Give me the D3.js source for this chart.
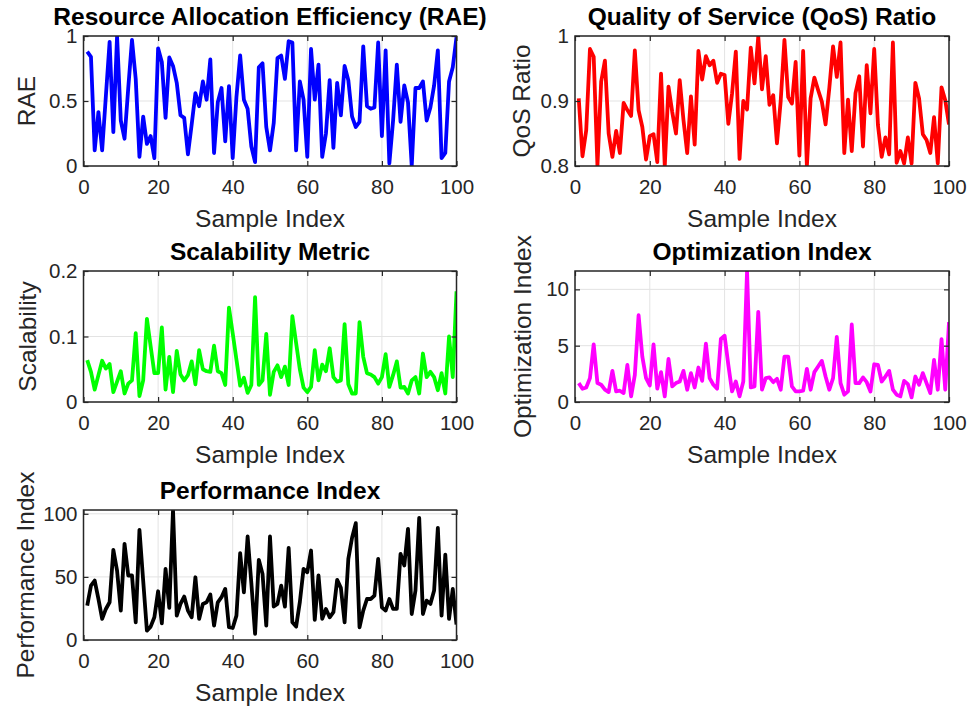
<!DOCTYPE html>
<html>
<head>
<meta charset="utf-8">
<script src="https://cdn.jsdelivr.net/npm/d3@7"></script>
<style>
  body { margin: 0; background: #fff; }
  svg { display: block; }
  text { font-family: Arial, "Liberation Sans", sans-serif; fill: #262626; }
</style>
</head>
<body>
<div id="wrapper"></div>
<script>
// sample index 1..100
const sampleIndex = d3.range(1, 101)

const rae = [0.88,0.84,0.12,0.415,0.12,0.54,0.955,0.26,1.0,0.35,
  0.21,0.6,0.97,0.67,0.07,0.38,0.17,0.23,0.06,0.905,
  0.80,0.37,0.835,0.77,0.64,0.39,0.37,0.09,0.32,0.56,
  0.46,0.65,0.51,0.82,0.10,0.49,0.60,0.19,0.615,0.06,
  0.53,0.85,0.51,0.44,0.15,0.03,0.76,0.79,0.30,0.12,
  0.33,0.83,0.85,0.67,0.96,0.95,0.12,0.65,0.51,0.07,
  0.90,0.51,0.78,0.07,0.25,0.66,0.14,0.64,0.39,0.77,
  0.66,0.38,0.30,0.34,0.92,0.46,0.44,0.45,0.95,0.23,
  0.89,0.02,0.35,0.78,0.34,0.62,0.49,0.0,0.60,0.60,
  0.65,0.35,0.45,0.62,0.89,0.06,0.10,0.65,0.76,0.99]

const qos = [0.904,0.815,0.855,0.98,0.968,0.80,0.93,0.962,0.85,0.814,
  0.854,0.82,0.897,0.886,0.877,0.978,0.886,0.86,0.81,0.846,
  0.849,0.806,0.942,0.80,0.922,0.883,0.85,0.932,0.871,0.82,
  0.907,0.833,0.977,0.933,0.969,0.955,0.962,0.928,0.942,0.94,
  0.865,0.912,0.976,0.811,0.90,0.887,0.982,0.927,0.999,0.918,
  0.969,0.894,0.909,0.835,0.90,0.994,0.906,0.896,0.96,0.816,
  0.977,0.80,0.904,0.936,0.917,0.899,0.864,0.92,0.984,0.937,
  0.99,0.82,0.902,0.823,0.912,0.938,0.83,0.955,0.881,0.98,
  0.863,0.814,0.844,0.818,0.99,0.805,0.823,0.804,0.844,0.804,
  0.928,0.904,0.849,0.84,0.82,0.875,0.804,0.921,0.901,0.864]

const scalability = [0.064,0.046,0.019,0.041,0.063,0.051,0.058,0.015,0.031,0.047,
  0.013,0.028,0.033,0.105,0.009,0.033,0.127,0.085,0.044,0.044,
  0.114,0.019,0.069,0.015,0.078,0.042,0.033,0.041,0.062,0.027,
  0.079,0.05,0.047,0.046,0.086,0.047,0.044,0.026,0.144,0.105,
  0.065,0.025,0.037,0.014,0.026,0.16,0.026,0.033,0.104,0.011,
  0.046,0.056,0.038,0.054,0.026,0.131,0.09,0.05,0.022,0.015,
  0.023,0.079,0.033,0.057,0.047,0.082,0.038,0.031,0.033,0.119,
  0.027,0.013,0.013,0.122,0.069,0.044,0.042,0.038,0.028,0.038,
  0.073,0.023,0.041,0.062,0.022,0.023,0.013,0.033,0.038,0.013,
  0.074,0.038,0.046,0.038,0.018,0.044,0.013,0.10,0.038,0.169]

const optimization = [1.68,1.18,1.29,2.12,5.12,1.68,1.53,1.09,0.88,2.76,
  0.94,1.0,0.79,3.29,0.5,2.41,7.7,4.03,2.12,1.47,
  5.12,1.18,2.65,0.5,3.82,1.38,1.68,1.82,2.76,1.09,
  2.56,1.29,3.06,1.88,5.18,2.12,1.53,1.18,5.59,5.88,
  3.29,0.94,1.82,0.5,1.82,11.6,1.29,1.38,8.0,1.09,
  2.12,2.18,1.76,2.06,1.09,4.03,4.03,1.38,0.94,0.94,
  1.0,2.94,1.09,2.65,3.15,3.65,2.26,1.09,2.12,5.79,
  1.68,0.65,0.94,6.88,1.68,1.68,2.18,1.76,0.94,3.35,
  3.29,1.82,2.26,2.76,1.09,0.65,0.5,1.88,1.59,0.41,
  2.26,1.53,2.56,1.68,0.79,3.74,1.09,5.59,1.09,7.1]

const performance = [27.3,43.1,47.1,32.5,16.7,24.6,29.9,71.4,55,23.3,
  76.2,51.1,51.1,14.0,87.3,47,7.4,10.6,18.0,38.6,
  13.2,56.4,25.4,103,19.3,28.6,34.4,23.3,18.0,49.7,
  16.7,28.6,29.9,36.0,11.4,29.9,33.9,40.5,10.1,9.5,
  19.3,68.8,37.8,82.0,45,4.8,63.5,52.4,11.4,82,
  26.5,28.6,43.1,26.5,73.0,14.0,10.6,30,56.4,53.7,
  70.9,15.9,51.1,16.7,24.6,18.0,22.0,47.6,41.3,14.0,
  64.3,81,92.6,10.1,23.3,32.5,32.5,35.2,64.3,25.9,
  23.3,32.5,24.6,24.6,68.3,59.0,88.1,20.6,39.2,96.8,
  20.6,31.2,28.6,39.2,88.9,19.3,67.7,16.7,40.5,12.2]

const xTicks = [0, 20, 40, 60, 80, 100]
const raeTicks = [0, 0.5, 1]
const qosTicks = [0.8, 0.9, 1]
const scalTicks = [0, 0.1, 0.2]
const optTicks = [0, 5, 10]
const perfTicks = [0, 50, 100]

// panel setup built from the arrays above
const panels = [
  { title: "Resource Allocation Efficiency (RAE)", ylabel: "RAE", values: rae, color: "#0000ff",
    yDomain: [0, 1], yTicks: raeTicks, box: { x: 83.5, y: 36, w: 373, h: 130 }, labelOffset: 49 },
  { title: "Quality of Service (QoS) Ratio", ylabel: "QoS Ratio", values: qos, color: "#ff0000",
    yDomain: [0.8, 1], yTicks: qosTicks, box: { x: 575, y: 36, w: 374, h: 130 }, labelOffset: 45 },
  { title: "Scalability Metric", ylabel: "Scalability", values: scalability, color: "#00ff00",
    yDomain: [0, 0.2], yTicks: scalTicks, box: { x: 83.5, y: 271, w: 373, h: 131 }, labelOffset: 48 },
  { title: "Optimization Index", ylabel: "Optimization Index", values: optimization, color: "#ff00ff",
    yDomain: [0, 11.63], yTicks: optTicks, box: { x: 575, y: 271, w: 374, h: 131 }, labelOffset: 44 },
  { title: "Performance Index", ylabel: "Performance Index", values: performance, color: "#000000",
    yDomain: [0, 103], yTicks: perfTicks, box: { x: 83.5, y: 510, w: 373, h: 130 }, labelOffset: 50 },
]

const wrapper = d3.select("#wrapper")
  .append("svg")
  .attr("width", 970)
  .attr("height", 708)

panels.forEach((p, idx) => {
  const b = p.box
  const g = wrapper.append("g").attr("transform", `translate(${b.x},${b.y})`)

  const xScale = d3.scaleLinear().domain([0, 100]).range([0, b.w])
  const yScale = d3.scaleLinear().domain(p.yDomain).range([b.h, 0])

  // grid
  g.append("g")
    .selectAll("line")
    .data(xTicks)
    .join("line")
    .attr("x1", d => xScale(d)).attr("x2", d => xScale(d))
    .attr("y1", 0).attr("y2", b.h)
    .attr("stroke", "#e3e3e3").attr("stroke-width", 1)
  g.append("g")
    .selectAll("line")
    .data(p.yTicks)
    .join("line")
    .attr("x1", 0).attr("x2", b.w)
    .attr("y1", d => yScale(d)).attr("y2", d => yScale(d))
    .attr("stroke", "#e3e3e3").attr("stroke-width", 1)

  // data line
  g.append("clipPath").attr("id", "clip" + idx)
    .append("rect").attr("width", b.w).attr("height", b.h)

  const lineGen = d3.line()
    .x((d, i) => xScale(sampleIndex[i]))
    .y(d => yScale(d))

  g.append("path")
    .datum(p.values)
    .attr("clip-path", `url(#clip${idx})`)
    .attr("fill", "none")
    .attr("stroke", p.color)
    .attr("stroke-width", 3.8)
    .attr("stroke-linejoin", "round")
    .attr("d", lineGen)

  // axes, ticks inside
  const fmt = d => String(+d.toFixed(2))
  g.append("g")
    .attr("transform", `translate(0,${b.h})`)
    .call(d3.axisBottom(xScale).tickValues(xTicks).tickSize(-5).tickPadding(13).tickFormat(fmt))
  g.append("g")
    .call(d3.axisTop(xScale).tickValues(xTicks).tickSize(-5).tickFormat(""))
  g.append("g")
    .call(d3.axisLeft(yScale).tickValues(p.yTicks).tickSize(-5).tickPadding(6).tickFormat(fmt))
  g.append("g")
    .attr("transform", `translate(${b.w},0)`)
    .call(d3.axisRight(yScale).tickValues(p.yTicks).tickSize(-5).tickFormat(""))

  g.selectAll(".domain").remove()
  g.selectAll(".tick line").attr("stroke", "#262626").attr("stroke-width", 1.2)
  g.selectAll(".tick text")
    .attr("fill", "#262626")
    .style("font-size", "20.5px")
    .style("font-family", "Arial, 'Liberation Sans', sans-serif")

  // box
  g.append("rect")
    .attr("width", b.w).attr("height", b.h)
    .attr("fill", "none")
    .attr("stroke", "#262626")
    .attr("stroke-width", 1.5)

  // labels
  g.append("text")
    .attr("x", b.w / 2)
    .attr("y", -11)
    .attr("text-anchor", "middle")
    .style("font-size", "24.5px")
    .style("font-weight", "bold")
    .style("fill", "#000")
    .text(p.title)

  g.append("text")
    .attr("x", b.w / 2)
    .attr("y", b.h + 61)
    .attr("text-anchor", "middle")
    .style("font-size", "24.5px")
    .text("Sample Index")

  g.append("text")
    .attr("transform", `translate(${-p.labelOffset},${b.h / 2}) rotate(-90)`)
    .attr("text-anchor", "middle")
    .style("font-size", "24.5px")
    .text(p.ylabel)
})
</script>
</body>
</html>
